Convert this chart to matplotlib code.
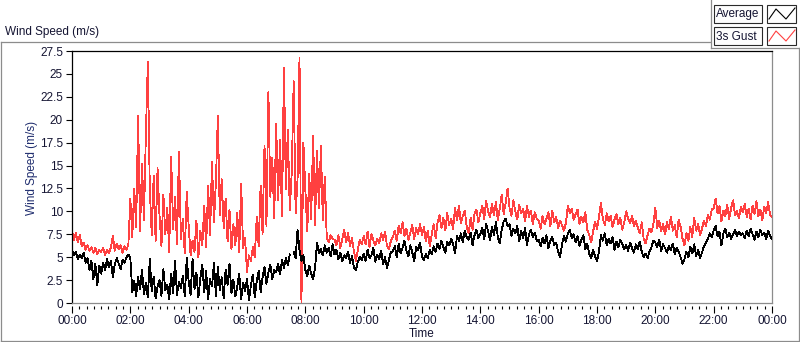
import matplotlib
matplotlib.use("Agg")
import matplotlib.pyplot as plt
import numpy as np
from matplotlib.lines import Line2D
from matplotlib.patches import Rectangle
from matplotlib.ticker import MultipleLocator

# one sample every 4 minutes (m/s)
STEP_MIN = 4
nan = np.nan

avg_00_04 = [5.8, 5.2, 5.6, 4.8, 5.3, 4.9, 5.5, 4.4, 4.9, 3.6, 4.6, 2.6, 4.3, 1.9, 4.1,
             3.2, 4.4, 3.6, 4.8, 3.9, 4.6, 2.8, 4.2, 4.9, 4.3, 3.7, 4.7, 4.4, 5.0, 5.3,
             4.9, 1.2, 2.4, 0.8, 2.8, 1.5, 3.6, 1.0, 2.2, 0.6, 4.8, 1.3, 2.9, 0.5, 1.8,
             2.5, 0.8, 3.7, 1.4, 2.0, 0.4, 3.2, 1.1, 4.6, 0.9, 2.3, 1.6, 3.0, 0.7, 4.9]
avg_04_08 = [2.4, 0.9, 4.8, 1.5, 3.3, 0.6, 2.7, 4.2, 1.2, 3.5, 0.4, 2.6, 1.8, 4.4, 0.8,
             3.9, 1.4, 2.8, 0.5, 3.6, 2.0, 4.3, 1.1, 2.5, 0.7, 1.8, 3.2, 0.4, 2.2, 1.3,
             2.6, 0.3, 1.9, 3.1, 0.6, 2.4, 3.5, 1.2, 2.8, 3.9, 2.1, 3.3, 4.2, 2.6, 3.6,
             3.4, 4.3, 3.1, 4.7, 3.8, 4.9, 4.1, 5.3, nan, 5.6, 4.9, 8.0, 5.8, 4.6, 5.2]
avg_08_12 = [3.6, 2.9, 4.1, 3.2, 2.6, 3.8, 6.6, 5.4, 5.9, 5.2, 6.3, 5.5, 6.0, 5.1, 6.4,
             5.3, 5.8, 4.8, 5.5, 4.6, 5.2, 4.9, 5.6, 4.4, 5.1, 3.8, 3.6, 4.5, 5.0, 4.7,
             5.4, 4.6, 5.8, 4.9, 5.2, 6.0, 4.5, 5.3, 4.8, 5.7, 4.2, 5.0, 3.8, 4.7, 5.6,
             5.6, 6.2, 5.0, 6.5, 5.4, 6.0, 6.8, 5.7, 5.1, 6.3, 5.5, 4.6, 6.1, 5.8, 6.6]
avg_12_16 = [5.1, 4.7, 5.4, 4.9, 5.8, 5.3, 6.2, 5.6, 6.5, 5.9, 6.8, 6.1, 5.5, 6.7, 6.3,
             7.0, 6.4, 5.4, 7.3, 6.8, 7.6, 6.6, 7.9, 7.2, 6.9, 7.7, 6.3, 7.4, 8.0, 7.1,
             7.5, 8.2, 7.0, 8.6, 7.8, 6.9, 8.3, 7.4, 8.8, 7.2, 6.5, 8.0, 8.9, 9.2, 8.4,
             8.6, 7.3, 8.1, 7.6, 8.4, 6.7, 7.9, 7.1, 8.2, 6.3, 7.5, 8.0, 7.2, 7.7, 6.8]
avg_16_20 = [6.9, 6.2, 7.1, 6.5, 7.4, 6.0, 6.8, 7.2, 6.3, 6.6, 5.6, 5.0, 6.4, 7.3, 6.7,
             7.6, 8.0, 7.1, 7.5, 6.6, 7.3, 6.2, 6.9, 7.4, 5.9, 6.5, 5.4, 4.9, 5.8, 5.1,
             4.6, 5.6, 7.4, 6.8, 7.6, 6.3, 7.0, 6.5, 7.2, 5.8, 6.7, 6.1, 6.9, 6.4, 5.9,
             6.3, 5.7, 6.6, 6.0, 5.5, 6.4, 5.9, 6.7, 5.6, 5.0, 5.4, 4.9, 5.6, 6.1, 6.8]
avg_20_24 = [6.6, 6.1, 6.9, 5.7, 6.4, 6.0, 5.5, 6.2, 5.8, 6.5, 5.3, 6.0, 5.6, 5.0, 4.3,
             4.8, 5.6, 5.0, 6.1, 5.4, 6.4, 5.1, 5.8, 4.9, 5.5, 6.2, 6.6, 7.0, 7.6, 7.2,
             7.9, 8.4, 7.3, 7.8, 6.3, 7.6, 8.1, 7.2, 7.7, 7.0, 7.5, 8.0, 7.3, 7.8, 7.4,
             7.6, 7.1, 7.9, 7.3, 8.1, 7.5, 6.9, 7.8, 7.2, 8.0, 7.4, 7.7, 7.0, 7.9, 7.3, 7.0]

gust_00_04 = [7.9, 6.9, 7.7, 6.6, 7.4, 6.2, 6.6, 5.8, 6.3, 5.7, 6.1, 5.5, 6.0, 5.3, 5.8,
              5.6, 6.0, 5.2, 5.8, 5.4, 6.1, 7.3, 5.7, 6.5, 5.9, 6.3, 5.5, 6.2, 5.8, 6.4,
              11.4, 7.2, 12.5, 8.3, 20.4, 7.8, 15.2, 9.0, 18.5, 26.3, 12.6, 7.4, 13.9, 6.8, 14.7,
              9.6, 6.2, 11.8, 7.5, 10.4, 5.6, 16.0, 8.1, 11.6, 6.4, 16.5, 7.0, 9.2, 5.4, 12.1]
gust_04_08 = [8.4, 5.2, 6.8, 5.6, 9.0, 5.0, 7.9, 6.3, 10.6, 6.1, 12.8, 7.4, 15.4, 8.8, 13.2,
              20.4, 9.6, 13.5, 8.2, 11.4, 6.7, 10.2, 5.9, 8.6, 6.3, 9.8, 5.5, 13.0, 6.0, 7.1,
              3.4, 5.2, 4.6, 6.1, 5.0, 9.4, 6.2, 12.8, 7.5, 17.2, 8.4, 23.0, 11.6, 15.8, 9.3,
              19.6, 11.2, 17.8, 9.5, 25.7, 12.4, 18.9, 10.1, 14.2, 24.2, 9.8, 13.5, 26.8, 0.0, 17.5]
gust_08_12 = [12.4, 7.8, 14.1, 9.2, 18.2, 8.5, 16.6, 10.3, 17.1, 9.0, 13.8, 7.2, 6.6, 7.4, 7.0,
              6.9, 6.3, 7.4, 6.0, 7.0, 8.0, 6.6, 7.6, 6.2, 7.1, 5.6, 4.6, 5.8, 6.9, 6.4,
              7.3, 6.4, 7.8, 6.1, 7.5, 6.8, 6.3, 7.0, 6.5, 7.6, 6.9, 7.8, 6.2, 5.9, 6.8,
              7.2, 7.9, 6.8, 8.4, 7.6, 8.8, 7.3, 8.1, 6.9, 7.7, 8.5, 7.0, 8.2, 7.5, 8.6]
gust_12_16 = [7.4, 8.3, 6.7, 7.9, 6.2, 7.5, 8.6, 7.1, 8.8, 9.6, 8.2, 9.3, 7.9, 9.8, 8.5,
              9.2, 8.1, 10.4, 9.0, 10.6, 8.7, 9.5, 10.1, 8.3, 7.6, 9.3, 8.0, 9.7, 10.2, 8.8,
              9.8, 10.6, 9.2, 11.1, 10.0, 9.4, 10.8, 9.6, 11.0, 9.0, 10.3, 11.8, 9.7, 10.9, 12.5,
              10.4, 9.5, 11.2, 10.0, 9.1, 10.7, 9.8, 10.3, 8.9, 10.6, 9.4, 10.1, 8.6, 9.9, 9.2]
gust_16_20 = [9.0, 8.1, 9.5, 8.6, 9.2, 9.9, 8.4, 10.1, 8.8, 9.4, 8.2, 9.0, 8.5, 7.9, 8.7,
              10.6, 9.8, 10.3, 9.1, 9.7, 10.2, 8.6, 9.4, 8.8, 9.9, 8.0, 7.4, 6.6, 7.8, 8.9,
              8.1, 9.4, 10.9, 9.2, 8.5, 9.8, 8.9, 9.5, 8.3, 9.1, 9.7, 8.6, 9.3, 8.0, 8.8,
              10.0, 9.2, 8.7, 9.5, 8.4, 9.0, 8.2, 7.6, 8.8, 7.0, 6.5, 7.4, 8.1, 7.7, 8.6]
gust_20_24 = [10.4, 8.2, 9.0, 7.8, 8.6, 7.5, 8.8, 8.1, 9.4, 7.9, 8.5, 7.2, 9.1, 8.3, 7.0,
              6.3, 7.6, 6.8, 8.3, 7.2, 9.3, 7.9, 8.6, 7.4, 8.1, 9.0, 8.4, 9.6, 9.1, 10.2,
              10.3, 11.4, 9.8, 10.6, 8.9, 10.1, 9.5, 10.7, 9.2, 10.4, 11.2, 9.6, 10.0, 9.3, 10.5,
              9.9, 10.8, 9.4, 10.3, 9.1, 10.6, 9.7, 11.1, 9.5, 10.2, 9.0, 10.5, 9.8, 11.0, 9.6, 9.4]

series_names = ["Average", "3s Gust"]
series_colors = ["#000000", "#ff4040"]
y_ticks = [0, 2.5, 5, 7.5, 10, 12.5, 15, 17.5, 20, 22.5, 25, 27.5]
y_tick_labels = ["0", "2.5", "5", "7.5", "10", "12.5", "15", "17.5", "20", "22.5", "25", "27.5"]
x_ticks = [0, 2, 4, 6, 8, 10, 12, 14, 16, 18, 20, 22, 24]
x_tick_labels = ["00:00", "02:00", "04:00", "06:00", "08:00", "10:00", "12:00",
                 "14:00", "16:00", "18:00", "20:00", "22:00", "00:00"]

W, H = 800, 342
BORDER = "#8c8c8c"
TEXT = "#141432"


def fx(px):
    return px / W


def fy(py):
    return 1 - py / H


def main():
    plt.rcParams["font.family"] = ["Liberation Sans", "DejaVu Sans"]
    plt.rcParams["font.size"] = 8.5

    average = np.array(avg_00_04 + avg_04_08 + avg_08_12 + avg_12_16 + avg_16_20 + avg_20_24)
    gust = np.array(gust_00_04 + gust_04_08 + gust_08_12 + gust_12_16 + gust_16_20 + gust_20_24)
    hours = np.arange(len(average)) * STEP_MIN / 60.0

    fig = plt.figure(figsize=(W / 100, H / 100), dpi=100)
    fig.patch.set_facecolor("white")

    ax = fig.add_axes([fx(72), fy(303), fx(772) - fx(72), fy(51) - fy(303)])
    # LabVIEW draws its traces 1 px wide without smoothing
    ax.plot(hours, gust, color=series_colors[1], lw=0.6, antialiased=False, zorder=2)
    ax.plot(hours, average, color=series_colors[0], lw=0.6, antialiased=False, zorder=3)
    ax.set_xlim(0, 24)
    ax.set_ylim(0, 27.5)

    ax.set_yticks(y_ticks)
    ax.set_yticklabels(y_tick_labels)
    ax.set_xticks(x_ticks)
    ax.set_xticklabels(x_tick_labels)
    ax.xaxis.set_minor_locator(MultipleLocator(0.25))
    ax.tick_params(axis="x", which="major", length=5, width=0.8, pad=2,
                   colors="black", labelcolor=TEXT)
    ax.tick_params(axis="x", which="minor", length=2.5, width=0.8, colors="black")
    ax.tick_params(axis="y", length=4, width=0.8, pad=2.5, colors="black", labelcolor=TEXT)

    for side in ("left", "top"):
        ax.spines[side].set_color("black")
        ax.spines[side].set_linewidth(0.9)
    ax.spines["right"].set_color(BORDER)
    ax.spines["right"].set_linewidth(0.9)
    # x ticks sit a little below the plot frame
    ax.spines["bottom"].set_position(("outward", 2))
    ax.spines["bottom"].set_visible(False)
    ax.plot([0, 1], [0, 0], transform=ax.transAxes, color=BORDER, lw=0.9,
            clip_on=False, zorder=5)

    fig.text(fx(32), fy(168), "Wind Speed (m/s)", rotation=90, ha="center", va="center",
             color="#1f2d6e")
    fig.text(fx(422), fy(334), "Time", ha="center", va="center", color=TEXT)
    fig.text(fx(5), fy(31.5), "Wind Speed (m/s)", ha="left", va="center", color=TEXT)

    # outer panel frame
    frame = [((0.5, 42), (710, 42)), ((0.5, 42), (0.5, 341)), ((0.5, 341), (799, 341)),
             ((799, 48), (799, 341)), ((711, 0), (711, 48)), ((711, 48), (799, 48))]
    for (x0, y0), (x1, y1) in frame:
        fig.add_artist(Line2D([fx(x0), fx(x1)], [fy(y0), fy(y1)], color=BORDER, lw=0.9))

    # legend: name box + swatch box with a small zig-zag
    zig_x = [769, 776, 786, 795]
    zig_y = [14, 4, 14, 3]
    for i, (name, color) in enumerate(zip(series_names, series_colors)):
        top = 5 + 22 * i
        fig.add_artist(Rectangle((fx(714), fy(top + 18)), fx(762) - fx(714), fy(top) - fy(top + 18),
                                 facecolor="#fdfdfd", edgecolor="#2a2a2a", lw=0.8))
        fig.add_artist(Rectangle((fx(767), fy(top + 18)), fx(796) - fx(767), fy(top) - fy(top + 18),
                                 facecolor="white", edgecolor="#2a2a2a", lw=0.8))
        fig.text(fx(716), fy(top + 9.5), name, ha="left", va="center", color=TEXT)
        fig.add_artist(Line2D([fx(x) for x in zig_x], [fy(top + y) for y in zig_y],
                              color=color, lw=0.8))

    fig.savefig("out.png", dpi=100, facecolor="white")
    plt.close(fig)


if __name__ == "__main__":
    main()
